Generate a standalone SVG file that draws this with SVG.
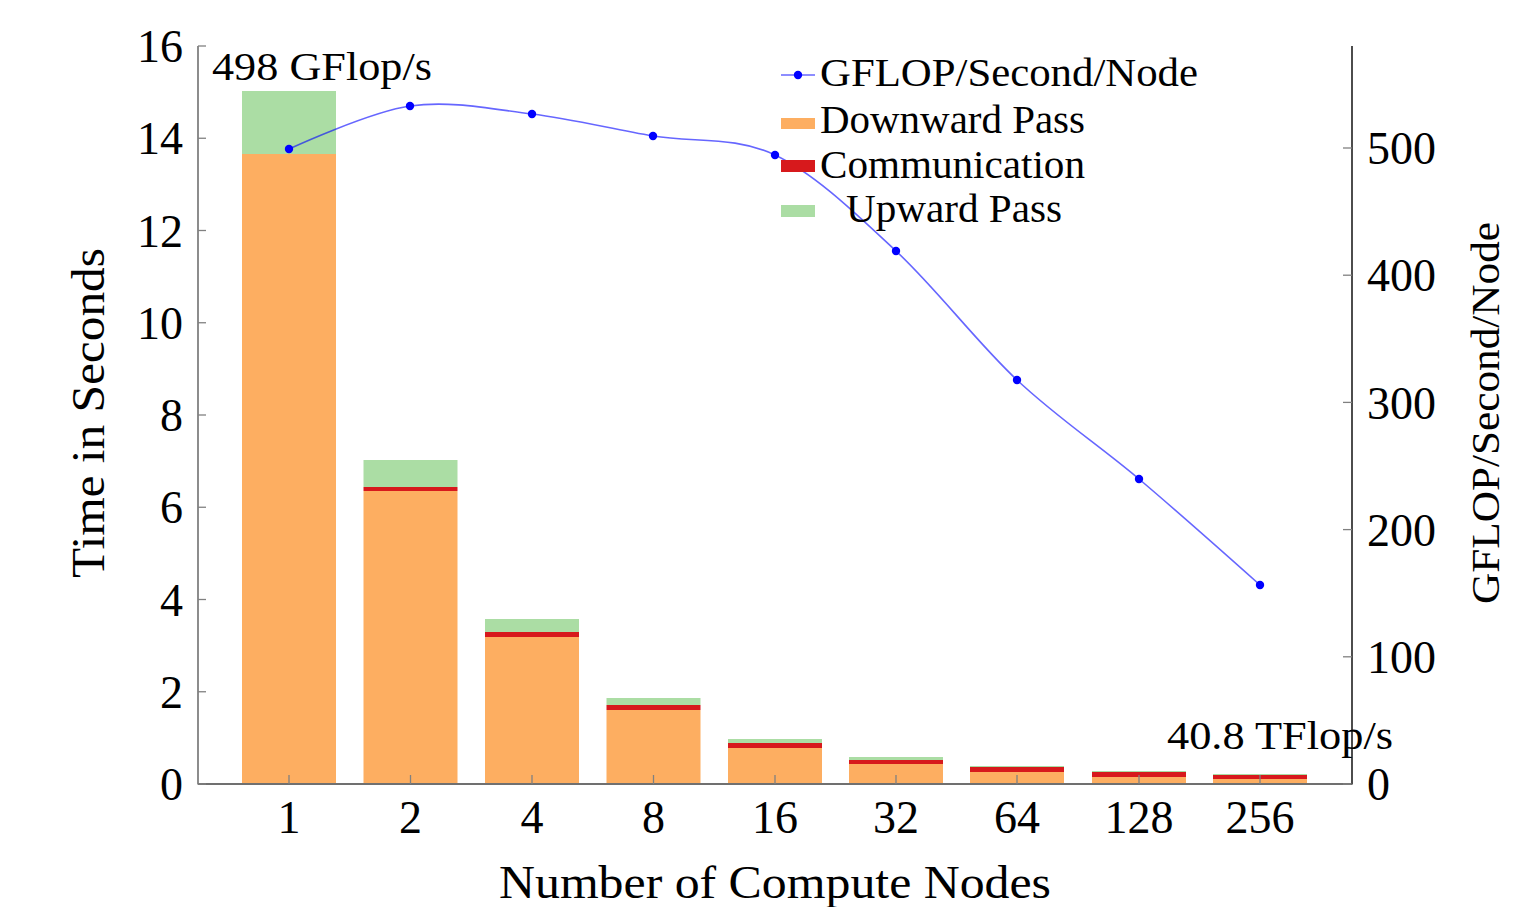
<svg xmlns="http://www.w3.org/2000/svg" width="1535" height="907" viewBox="0 0 1535 907">
<style>
text{font-family:"Liberation Serif","DejaVu Serif",serif;fill:#000}
.t{font-size:46px}
.s{font-size:40px}
.dn{fill:#fdae61}
.cm{fill:#d7191c}
.up{fill:#abdda4}
.tick{stroke:#808080;stroke-width:1.3}
.mk{fill:#0000ff}
</style>
<rect width="1535" height="907" fill="#fff"/>
<g id="bars">
<g id="bar1"><rect class="up" x="242" y="91" width="94" height="63"/><rect class="dn" x="242" y="154" width="94" height="630"/></g>
<g id="bar2"><rect class="up" x="363.5" y="460" width="94" height="27"/><rect class="cm" x="363.5" y="487" width="94" height="4"/><rect class="dn" x="363.5" y="491" width="94" height="293"/></g>
<g id="bar4"><rect class="up" x="485" y="619" width="94" height="13"/><rect class="cm" x="485" y="632" width="94" height="5"/><rect class="dn" x="485" y="637" width="94" height="147"/></g>
<g id="bar8"><rect class="up" x="606.5" y="698" width="94" height="7"/><rect class="cm" x="606.5" y="705" width="94" height="5"/><rect class="dn" x="606.5" y="710" width="94" height="74"/></g>
<g id="bar16"><rect class="up" x="728" y="739" width="94" height="4"/><rect class="cm" x="728" y="743" width="94" height="5"/><rect class="dn" x="728" y="748" width="94" height="36"/></g>
<g id="bar32"><rect class="up" x="849" y="757" width="94" height="3"/><rect class="cm" x="849" y="760" width="94" height="4"/><rect class="dn" x="849" y="764" width="94" height="20"/></g>
<g id="bar64"><rect class="up" x="970" y="766" width="94" height="1"/><rect class="cm" x="970" y="767" width="94" height="5"/><rect class="dn" x="970" y="772" width="94" height="12"/></g>
<g id="bar128"><rect class="up" x="1092" y="771" width="94" height="1"/><rect class="cm" x="1092" y="772" width="94" height="5"/><rect class="dn" x="1092" y="777" width="94" height="7"/></g>
<g id="bar256"><rect class="up" x="1213" y="774" width="94" height="1"/><rect class="cm" x="1213" y="775" width="94" height="4"/><rect class="dn" x="1213" y="779" width="94" height="5"/></g>
</g>
<g id="axes">
<line x1="198" y1="46" x2="198" y2="784.5" stroke="#707070" stroke-width="1.6"/>
<line x1="198" y1="784" x2="1352" y2="784" stroke="#707070" stroke-width="1.8"/>
<line x1="1352" y1="46" x2="1352" y2="784.5" stroke="#000" stroke-width="1.4"/>
<g class="tick">
<line x1="198" y1="784" x2="206" y2="784"/><line x1="198" y1="691.75" x2="206" y2="691.75"/><line x1="198" y1="599.5" x2="206" y2="599.5"/><line x1="198" y1="507.25" x2="206" y2="507.25"/><line x1="198" y1="415" x2="206" y2="415"/><line x1="198" y1="322.75" x2="206" y2="322.75"/><line x1="198" y1="230.5" x2="206" y2="230.5"/><line x1="198" y1="138.25" x2="206" y2="138.25"/><line x1="198" y1="46" x2="206" y2="46"/>
<line x1="289" y1="775" x2="289" y2="784"/><line x1="410.5" y1="775" x2="410.5" y2="784"/><line x1="532" y1="775" x2="532" y2="784"/><line x1="653.5" y1="775" x2="653.5" y2="784"/><line x1="775" y1="775" x2="775" y2="784"/><line x1="896" y1="775" x2="896" y2="784"/><line x1="1017" y1="775" x2="1017" y2="784"/><line x1="1139" y1="775" x2="1139" y2="784"/><line x1="1260" y1="775" x2="1260" y2="784"/>
<line x1="1343" y1="784" x2="1352" y2="784"/><line x1="1343" y1="656.8" x2="1352" y2="656.8"/><line x1="1343" y1="529.6" x2="1352" y2="529.6"/><line x1="1343" y1="402.4" x2="1352" y2="402.4"/><line x1="1343" y1="275.2" x2="1352" y2="275.2"/><line x1="1343" y1="148" x2="1352" y2="148"/>
</g>
<g class="t" text-anchor="end">
<text x="183" y="800">0</text><text x="183" y="708">2</text><text x="183" y="615.5">4</text><text x="183" y="523">6</text><text x="183" y="431">8</text><text x="183" y="339">10</text><text x="183" y="246.5">12</text><text x="183" y="154">14</text><text x="183" y="62">16</text>
</g>
<g class="t" text-anchor="middle">
<text x="289" y="833">1</text><text x="410.5" y="833">2</text><text x="532" y="833">4</text><text x="653.5" y="833">8</text><text x="775" y="833">16</text><text x="896" y="833">32</text><text x="1017" y="833">64</text><text x="1139" y="833">128</text><text x="1260" y="833">256</text>
</g>
<g class="t">
<text x="1367" y="800">0</text><text x="1367" y="673">100</text><text x="1367" y="546">200</text><text x="1367" y="418.5">300</text><text x="1367" y="291">400</text><text x="1367" y="164">500</text>
</g>
<text class="t" x="775" y="898" text-anchor="middle" textLength="552" lengthAdjust="spacingAndGlyphs">Number of Compute Nodes</text>
<text class="t" transform="translate(104,413) rotate(-90)" text-anchor="middle" textLength="330" lengthAdjust="spacingAndGlyphs">Time in Seconds</text>
<text class="s" transform="translate(1499,413) rotate(-90)" text-anchor="middle" textLength="382" lengthAdjust="spacingAndGlyphs">GFLOP/Second/Node</text>
</g>
<g id="line">
<path d="M289,149 C289,149 369.5,111.8 410,106 C450.5,100.2 491.5,109 532,114 C572.5,119 612.5,129.2 653,136 C693.5,142.8 734.5,135.8 775,155 C815.5,174.2 855.7,213.5 896,251 C936.3,288.5 976.5,342 1017,380 C1057.5,418 1098.5,444.8 1139,479 C1179.5,513.2 1260,585 1260,585" fill="none" stroke="#0000ff" stroke-opacity="0.6" stroke-width="1.6"/>
<g class="mk">
<circle cx="289" cy="149" r="4.2"/><circle cx="410" cy="106" r="4.2"/><circle cx="532" cy="114" r="4.2"/><circle cx="653" cy="136" r="4.2"/><circle cx="775" cy="155" r="4.2"/><circle cx="896" cy="251" r="4.2"/><circle cx="1017" cy="380" r="4.2"/><circle cx="1139" cy="479" r="4.2"/><circle cx="1260" cy="585" r="4.2"/>
</g>
</g>
<g id="annotations">
<text class="s" x="212" y="80" textLength="220" lengthAdjust="spacingAndGlyphs">498 GFlop/s</text>
<text class="s" x="1167" y="749" textLength="226" lengthAdjust="spacingAndGlyphs">40.8 TFlop/s</text>
</g>
<g id="legend">
<line x1="781" y1="75" x2="815" y2="75" stroke="#0000ff" stroke-opacity="0.6" stroke-width="1.6"/>
<circle class="mk" cx="798" cy="75" r="4.2"/>
<rect class="dn" x="781" y="118" width="34" height="11"/>
<rect class="cm" x="781" y="160" width="34" height="12"/>
<rect class="up" x="781" y="205" width="34" height="12"/>
<text class="s" x="820" y="86" textLength="378" lengthAdjust="spacingAndGlyphs">GFLOP/Second/Node</text>
<text class="s" x="820" y="133" textLength="265" lengthAdjust="spacingAndGlyphs">Downward Pass</text>
<text class="s" x="820" y="178" textLength="265" lengthAdjust="spacingAndGlyphs">Communication</text>
<text class="s" x="846" y="222" textLength="216" lengthAdjust="spacingAndGlyphs">Upward Pass</text>
</g>
</svg>
